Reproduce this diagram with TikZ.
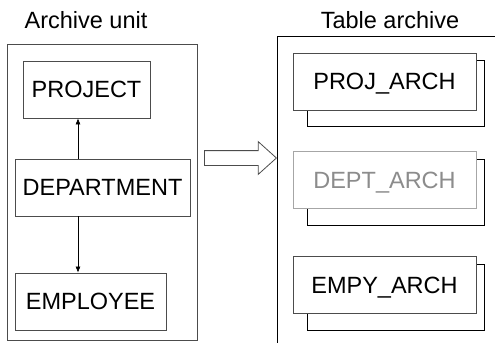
\documentclass[tikz,border=0pt]{standalone}
\usepackage{fontspec}
\setmainfont{Liberation Sans}
\usetikzlibrary{arrows.meta, positioning, shapes.arrows, backgrounds}

\begin{document}
\begin{tikzpicture}[
			x=1pt, y=-1pt, line width=0.8pt,
			txt/.style={font=\fontsize{23.5}{27}\selectfont, text height=16.8pt, text depth=0pt, inner sep=0pt},
			box/.style={txt, rectangle, draw=black!70, fill=white, minimum height=57},
			arch/.style={box, minimum width=183},
			faded/.style={draw=black!35, text=black!45},
			stack/.style={draw=black},
			move/.style={single arrow, draw=black!70, fill=white, inner sep=7pt, minimum height=72,
				single arrow head extend=9pt, single arrow tip angle=84}
			]
			\useasboundingbox (0,0) rectangle (495,343);
			% archive unit side
			\node[txt] (unittitle) at (86,20) {Archive unit};
			\node[rectangle, draw=black!70, minimum width=190, minimum height=296] (unit) at (102,192) {};
			\node[box, minimum width=127] (project) at (86.5,89.5) {PROJECT};
			\node[box, minimum width=175] (dept) at (102.5,187.5) {DEPARTMENT};
			\node[box, minimum width=151] (employee) at (90.5,301.5) {EMPLOYEE};
			\coordinate (link) at (78,0);
			\draw[-{Latex[length=6pt,width=5pt]}, line width=0.6pt] (dept.north -| link) -- (project.south -| link);
			\draw[-{Latex[length=6pt,width=5pt]}, line width=0.6pt] (dept.south -| link) -- (employee.north -| link);
			% table archive side
			\node[txt] (archtitle) at (390,20) {Table archive};
			\draw (495,36) -| (277,343);
			\node[move, anchor=tip] (copy) at (277,158) {};
			\node[arch] (projarch) at (384.5,81.5) {PROJ\_ARCH};
			\node[arch, faded] (deptarch) at (384.5,180) {DEPT\_ARCH};
			\node[arch] (empyarch) at (384.5,285) {EMPY\_ARCH};
			\begin{scope}[on background layer]
				\foreach \n in {projarch, deptarch, empyarch}
					\draw[stack] ([shift={(15,16)}]\n.south west) rectangle ([shift={(8,8)}]\n.north east);
			\end{scope}
		\end{tikzpicture}
\end{document}
